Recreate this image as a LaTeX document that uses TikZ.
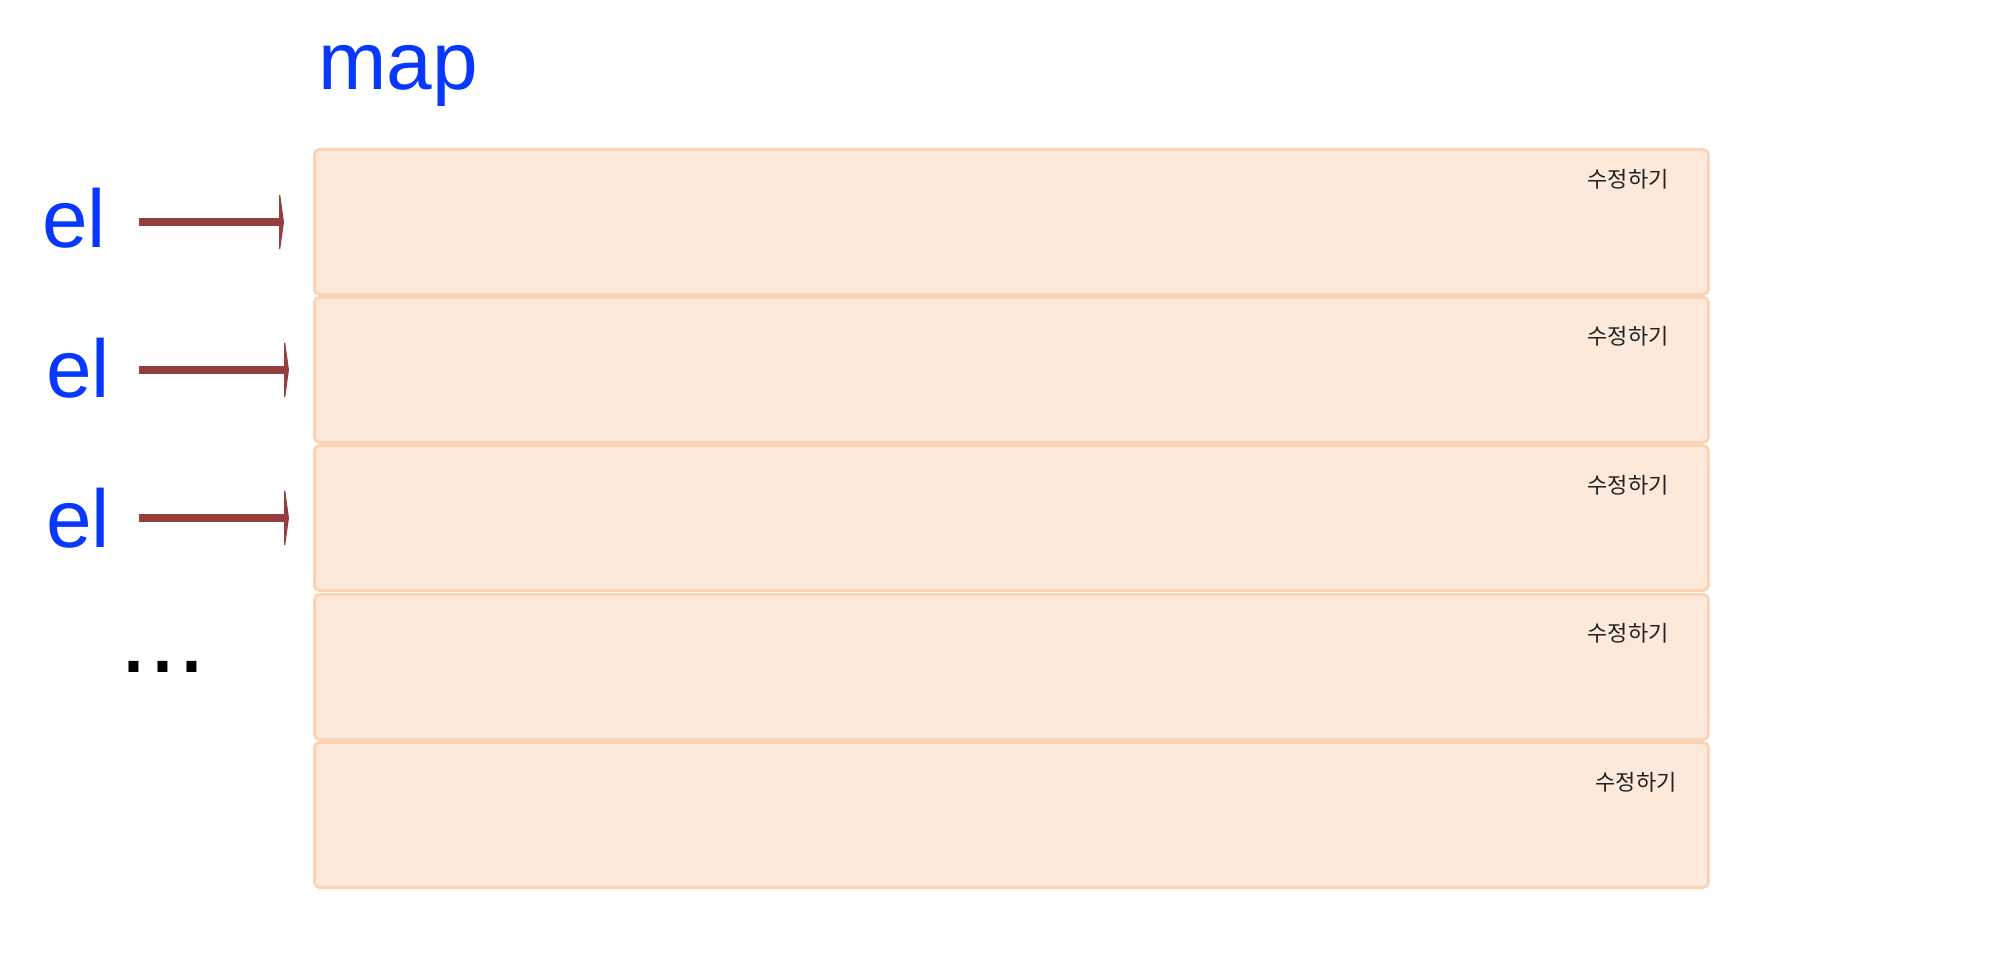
\documentclass[tikz,border=0pt]{standalone}
\usepackage{fontspec}
\setmainfont{Liberation Sans}
\newfontfamily\krfont{Noto Sans CJK KR}
\usetikzlibrary{arrows.meta}
\definecolor{cellfill}{RGB}{252,233,218}
\definecolor{cellborder}{RGB}{250,212,180}
\definecolor{lblue}{RGB}{8,56,255}
\definecolor{arrred}{RGB}{150,62,62}
\definecolor{krtext}{RGB}{34,34,34}
\begin{document}
\begin{tikzpicture}[x=0.5pt,y=-0.5pt,
  cell/.style={draw=cellborder, fill=cellfill, line width=1.4pt, rounded corners=2.5pt,
    minimum width=697pt, minimum height=72.5pt, inner sep=0pt, anchor=north west},
  edit/.style={font=\krfont\fontsize{11}{13}\selectfont, text=krtext, inner sep=0pt},
  ellabel/.style={font=\fontsize{41}{48}\selectfont, text=lblue, inner sep=0pt, anchor=base west},
  arr/.style={draw=arrred, line width=3.8pt, -{Triangle[length=2.5pt,width=36pt]}}]
\useasboundingbox (0,0) rectangle (2000,952);

\node[font=\fontsize{41}{50}\selectfont, text=lblue, inner sep=0pt, anchor=base west] (map) at (318,90) {map};

\node[cell] (box1) at (313,148) {};
\node[cell] (box2) at (313,296) {};
\node[cell] (box3) at (313,444) {};
\node[cell] (box4) at (313,593) {};
\node[cell] (box5) at (313,741) {};

\node[edit] (ed1) at (1628,179) {수정하기};
\node[edit] (ed2) at (1628,336) {수정하기};
\node[edit] (ed3) at (1628,485) {수정하기};
\node[edit] (ed4) at (1628,633) {수정하기};
\node[edit] (ed5) at (1636,782) {수정하기};

\node[ellabel] (el1) at (42,248) {el};
\node[ellabel] (el2) at (46,397) {el};
\node[ellabel] (el3) at (46,547) {el};

\node[font=\fontsize{52}{60}\selectfont, inner sep=0pt, anchor=base] (dots) at (163,672) {...};

\draw[arr, shorten <=16pt, shorten >=14.5pt] (el1.east |- box1.west) -- (box1.west);
\draw[arr, shorten <=14pt, shorten >=12pt] (el2.east |- box2.west) -- (box2.west);
\draw[arr, shorten <=14pt, shorten >=12pt] (el3.east |- box3.west) -- (box3.west);
\end{tikzpicture}
\end{document}
